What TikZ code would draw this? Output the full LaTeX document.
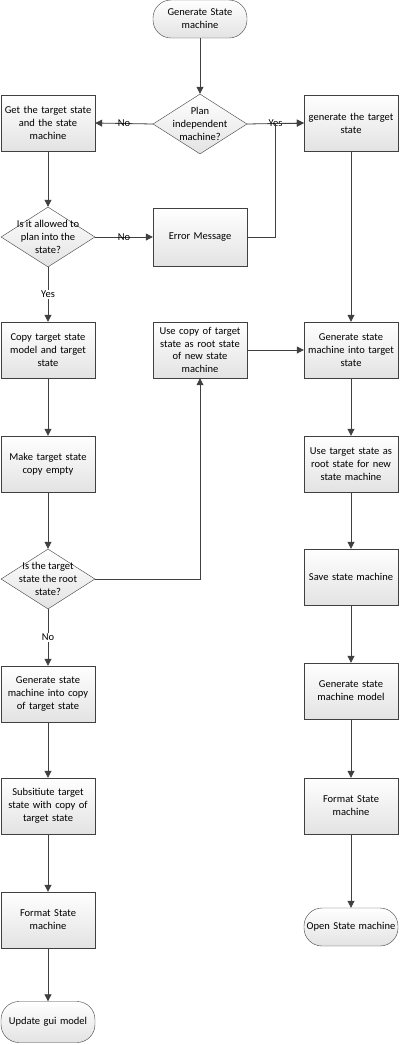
\documentclass[tikz,border=0pt]{standalone}
\usepackage{fontspec}
\setmainfont{Carlito}
\usetikzlibrary{shapes.geometric,arrows.meta}

\begin{document}
\begin{tikzpicture}[x=1pt, y=-1pt,
            font=\fontsize{10.5}{12.8}\selectfont,
            block/.style={rectangle, draw=black!75, top color=white, bottom color=black!11, minimum width=94pt, minimum height=56pt, text width=92pt, align=center, inner sep=1pt},
            term/.style={block, rounded corners=18pt, minimum height=38pt},
            decision/.style={diamond, draw=black!75, top color=white, bottom color=black!11, minimum width=94pt, minimum height=60pt, inner sep=0pt},
            arrow/.style={-{Triangle[length=7pt,width=7pt]}, draw=black!75, line width=0.8pt},
            answer/.style={inner sep=1pt}
        ]
        \useasboundingbox (0,0) rectangle (400,1045);

        % Start
        \node[term] (start) at (200,19) {Generate State\\machine};
        \node[decision, label={[align=center]center:Plan\\independent\\machine?}] (plan) at (200,124) {};

        % Left column
        \node[block] (get) at (48,123) {Get the target state\\and the state\\machine};
        \node[decision, label={[align=center]center:Is it allowed to\\plan into the\\state?}] (allowed) at (48,237) {};
        \node[block] (copy) at (48,350) {Copy target state\\model and target\\state};
        \node[block] (empty) at (48,464) {Make target state\\copy empty};
        \node[decision, label={[align=center]center:Is the target\\state the root\\state?}] (root) at (48,579) {};
        \node[block] (gencopy) at (48,694) {Generate state\\machine into copy\\of target state};
        \node[block] (subst) at (48,806) {Subsitiute target\\state with copy of\\target state};
        \node[block] (formatl) at (48,920) {Format State\\machine};
        \node[term, minimum height=41pt] (update) at (48,1022) {Update gui model};

        % Middle column
        \node[block, minimum height=58pt] (error) at (200,237) {Error Message};
        \node[block] (usecopy) at (200,350) {Use copy of target\\state as root state\\of new state\\machine};

        % Right column
        \node[block] (gen) at (351,123) {generate the target\\state};
        \node[block] (geninto) at (351,350) {Generate state\\machine into target\\state};
        \node[block] (useroot) at (351,464) {Use target state as\\root state for new\\state machine};
        \node[block] (save) at (351,577) {Save state machine};
        \node[block] (genmodel) at (351,691) {Generate state\\machine model};
        \node[block] (formatr) at (351,806) {Format State\\machine};
        \node[term] (open) at (351,927) {Open State machine};

        % Decisions
        \draw[arrow] (start) -- (plan);
        \draw[arrow] (plan.west) -- (get.east) node[midway, answer] {No};
        \draw[arrow] (plan.east) -- (gen.west) node[midway, answer] {Yes};
        \draw[arrow] (get) -- (allowed);
        \draw[arrow] (allowed.east) -- (error.west) node[midway, answer] {No};
        \draw[arrow] (error.east) -- ++(28,0) |- (gen.west);
        \draw[arrow] (allowed.south) -- (copy.north) node[midway, answer, fill=white] {Yes};
        \draw[arrow] (copy) -- (empty);
        \draw[arrow] (empty) -- (root);
        \draw[arrow] (root.east) -| (usecopy.south);
        \draw[arrow] (root.south) -- (gencopy.north) node[midway, answer, fill=white] {No};
        \draw[arrow] (usecopy) -- (geninto);

        % Left chain
        \draw[arrow] (gencopy) -- (subst);
        \draw[arrow] (subst) -- (formatl);
        \draw[arrow] (formatl) -- (update);

        % Right chain
        \draw[arrow] (gen) -- (geninto);
        \draw[arrow] (geninto) -- (useroot);
        \draw[arrow] (useroot) -- (save);
        \draw[arrow] (save) -- (genmodel);
        \draw[arrow] (genmodel) -- (formatr);
        \draw[arrow] (formatr) -- (open);

\end{tikzpicture}
\end{document}
